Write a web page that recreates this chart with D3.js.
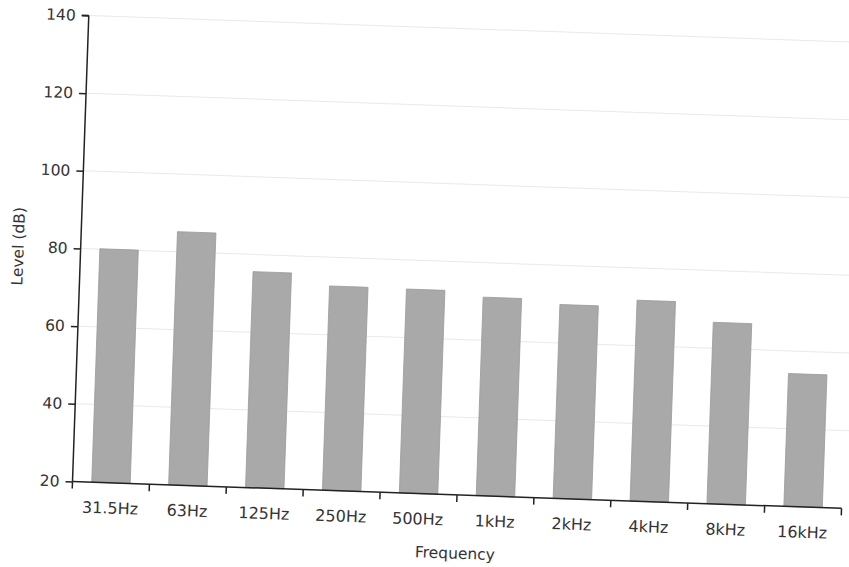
<!DOCTYPE html>
<html>
<head>
<meta charset="utf-8">
<script src="https://cdn.jsdelivr.net/npm/d3@7"></script>
<style>
  html, body { margin: 0; padding: 0; background: #ffffff; }
  svg { display: block; }
  text { font-family: "DejaVu Sans", Verdana, sans-serif; fill: #333; }
</style>
</head>
<body>
<svg id="chart" width="849" height="567"></svg>
<script>
const categories = ["31.5Hz", "63Hz", "125Hz", "250Hz", "500Hz", "1kHz", "2kHz", "4kHz", "8kHz", "16kHz"];
const levels = [80.1, 85.2, 75.6, 72.6, 72.5, 71.1, 69.9, 71.7, 66.7, 54.2];
const yTicks = [20, 40, 60, 80, 100, 120, 140];
const xTitle = "Frequency";
const yTitle = "Level (dB)";

const W = 769.5, H = 466.3;
const svg = d3.select("#chart");
const g = svg.append("g").attr("transform", "translate(72.5,481.5) rotate(2)");

const x = d3.scaleBand().domain(categories).range([0, W]).paddingInner(0.5).paddingOuter(0.25);
const y = d3.scaleLinear().domain([20, 140]).range([0, -H]);

// gridlines
g.append("g").selectAll("line").data(yTicks.filter(d => d > 20)).join("line")
  .attr("x1", 0).attr("x2", W + 12)
  .attr("y1", d => y(d)).attr("y2", d => y(d))
  .attr("stroke", "#e9e9e9").attr("stroke-width", 1);

// bars
g.append("g").selectAll("rect").data(categories).join("rect")
  .attr("x", d => x(d))
  .attr("width", x.bandwidth())
  .attr("y", (d, i) => y(levels[i]))
  .attr("height", (d, i) => y(20) - y(levels[i]))
  .attr("fill", "#a9a9a9")
  .attr("stroke", "#9a9a9a").attr("stroke-width", 0.8);

// y axis
const yAxis = d3.axisLeft(y).tickValues(yTicks).tickSize(7).tickPadding(6).tickFormat(d3.format("d"));
const ya = g.append("g").call(yAxis);
ya.select(".domain").attr("stroke", "#222").attr("stroke-width", 1.5).attr("d", `M0,0V${-H}M-7,${-H}H0`);
ya.selectAll(".tick line").attr("stroke", "#222").attr("stroke-width", 1.5);
ya.selectAll(".tick text").style("font-size", "15.5px").attr("fill", "#333")
  .style("font-family", '"DejaVu Sans", Verdana, sans-serif');

// x axis (labels centered on bands, ticks at band boundaries)
const step = x.step();
const boundaries = d3.range(categories.length + 1).map(i => i === categories.length ? W : x(categories[i]) - step * x.paddingOuter());
g.append("line").attr("x1", 0).attr("x2", W).attr("y1", 0).attr("y2", 0)
  .attr("stroke", "#222").attr("stroke-width", 1.5);
g.append("g").selectAll("line").data(boundaries).join("line")
  .attr("x1", d => d).attr("x2", d => d).attr("y1", 0).attr("y2", 7)
  .attr("stroke", "#222").attr("stroke-width", 1.5);
g.append("g").selectAll("text").data(categories).join("text")
  .attr("x", d => x(d) + x.bandwidth() / 2)
  .attr("y", 30.8)
  .attr("text-anchor", "middle")
  .style("font-size", "16px")
  .text(d => d);

// titles
g.append("text").attr("x", W / 2).attr("y", 63.8).attr("text-anchor", "middle")
  .style("font-size", "15.5px").text(xTitle);
g.append("text").attr("transform", `translate(-57,${-H / 2}) rotate(-90)`)
  .attr("text-anchor", "middle").style("font-size", "15.5px").text(yTitle);
</script>
</body>
</html>
